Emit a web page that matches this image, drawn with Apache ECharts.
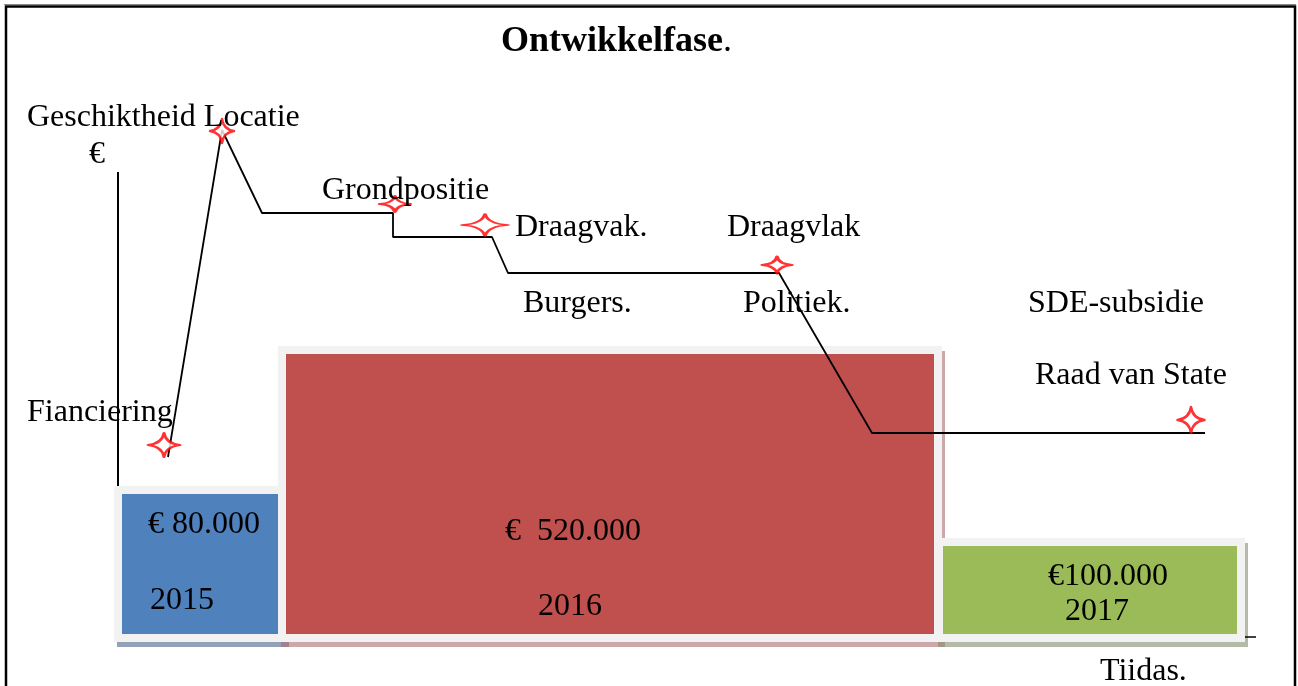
<!DOCTYPE html>
<html>
<head>
<meta charset="utf-8">
<title>Ontwikkelfase</title>
<script src="https://cdn.jsdelivr.net/npm/echarts@6/dist/echarts.min.js"></script>
<style>
  html, body { margin: 0; padding: 0; background: #fff; }
  #main { width: 1298px; height: 686px; }
</style>
</head>
<body>
<div id="main"></div>
<script>
// data (x / y in the drawing's own units, y runs downward)
const lineX = [168, 222, 262, 393, 393, 492, 508, 779, 872, 1205];
const lineY = [457, 130, 213, 213, 237, 237, 273, 273, 433, 433];

const starX = [164, 222, 395, 485, 777, 1191];
const starY = [445, 131, 204, 225, 265, 420];

const years = ['2015', '2016', '2017'];
const amounts = ['€ 80.000', '€  520.000', '€100.000'];
const barStart = [114, 278, 935];
const barEnd = [286, 942, 1245];
const barTop = [486, 346, 538];
const barBase = 642;

const notes = ['Geschiktheid Locatie', '€', 'Grondpositie', 'Draagvak.', 'Draagvlak',
  'Burgers.', 'Politiek.', 'SDE-subsidie', 'Raad van State', 'Fianciering', 'Tiidas.'];

// layout / styles
const FONT = '"Liberation Serif", "Times New Roman", serif';
const FS = 32;
const starSizes = [[32, 24], [24, 24], [31, 16], [46, 22], [30, 17], [27, 26]];
const notePos = [[27, 118], [89, 155], [322, 191], [515, 228], [727, 228],
  [523, 304], [743, 304], [1028, 304], [1035, 376], [27, 413], [1100, 672]];
const amountPos = [[148, 525], [505, 532], [1048, 577]];
const yearPos = [[150, 601], [538, 607], [1065, 612]];
const barColors = ['#4f81bd', '#c0504d', '#9bbb59'];
const shadowColors = ['rgba(110,130,160,0.75)', 'rgba(170,110,115,0.6)', 'rgba(130,140,110,0.6)'];

const starPath = 'path://M50,0 Q56,44 100,50 Q56,56 50,100 Q44,56 0,50 Q44,44 50,0 Z';

let chart = echarts.init(document.getElementById('main'), null, { renderer: 'canvas' });

let barData = years.map((y, i) => [barStart[i], barEnd[i], barTop[i], i]);
let lineData = lineX.map((x, i) => [x, lineY[i]]);
let starData = starX.map((x, i) => [x, starY[i], i]);

function txt(text, pos, extra) {
  return Object.assign({
    type: 'text',
    x: pos[0],
    y: pos[1],
    z: 50,
    style: {
      text: text,
      font: FS + 'px ' + FONT,
      fill: '#000',
      verticalAlign: 'middle'
    }
  }, extra || {});
}

let graphics = [
  // frame
  { type: 'line', shape: { x1: 4, y1: 4.5, x2: 1296, y2: 4.5 }, style: { stroke: '#888', lineWidth: 1 }, z: 60 },
  { type: 'rect', shape: { x: 6, y: 6.5, width: 1289, height: 720 }, style: { fill: null, stroke: '#000', lineWidth: 2.5 }, z: 60 },
  // title
  {
    type: 'text', x: 501, y: 42, z: 50,
    style: {
      text: '{b|Ontwikkelfase}{n|.}',
      verticalAlign: 'middle',
      rich: {
        b: { font: 'bold 36px ' + FONT, fill: '#000' },
        n: { font: '36px ' + FONT, fill: '#000' }
      }
    }
  }
];
notes.forEach((t, i) => graphics.push(txt(t, notePos[i])));
amounts.forEach((t, i) => graphics.push(txt(t, amountPos[i])));
years.forEach((t, i) => graphics.push(txt(t, yearPos[i])));

const option = {
  animation: false,
  backgroundColor: '#fff',
  grid: { left: 0, right: 0, top: 0, bottom: 0 },
  xAxis: { type: 'value', min: 0, max: 1298, show: false },
  yAxis: { type: 'value', min: 0, max: 686, inverse: true, show: false },
  graphic: graphics,
  series: [
    {
      // the framed period blocks
      type: 'custom',
      z: 2,
      data: barData,
      renderItem: function (params, api) {
        let p0 = api.coord([api.value(0), api.value(2)]);
        let p1 = api.coord([api.value(1), barBase]);
        let i = api.value(3);
        let inset = 8;
        return {
          type: 'group',
          children: [
            {
              type: 'rect',
              shape: { x: p0[0], y: p0[1], width: p1[0] - p0[0], height: p1[1] - p0[1] },
              style: {
                fill: '#f2f2f2',
                shadowColor: shadowColors[i],
                shadowBlur: 0,
                shadowOffsetX: 3,
                shadowOffsetY: 5
              }
            },
            {
              type: 'rect',
              shape: {
                x: p0[0] + inset, y: p0[1] + inset,
                width: p1[0] - p0[0] - inset * 2, height: p1[1] - p0[1] - inset * 2
              },
              style: { fill: barColors[i] }
            }
          ]
        };
      }
    },
    {
      // value axis stub
      type: 'line',
      z: 3,
      data: [[118, 172], [118, 486]],
      symbol: 'none',
      lineStyle: { color: '#000', width: 2 },
      silent: true
    },
    {
      // time axis stub
      type: 'line',
      z: 3,
      data: [[1245, 637], [1256, 637]],
      symbol: 'none',
      lineStyle: { color: '#000', width: 1.5 },
      silent: true
    },
    {
      type: 'line',
      z: 4,
      data: lineData,
      symbol: 'none',
      lineStyle: { color: '#000', width: 1.8 },
      silent: true
    },
    {
      type: 'scatter',
      z: 5,
      data: starData,
      symbol: starPath,
      symbolSize: function (val) { return starSizes[val[2]]; },
      itemStyle: {
        color: '#fff',
        borderColor: '#ff0000',
        borderWidth: 2.5,
        borderJoin: 'round'
      },
      silent: true
    }
  ]
};
chart.setOption(option);
</script>
</body>
</html>
